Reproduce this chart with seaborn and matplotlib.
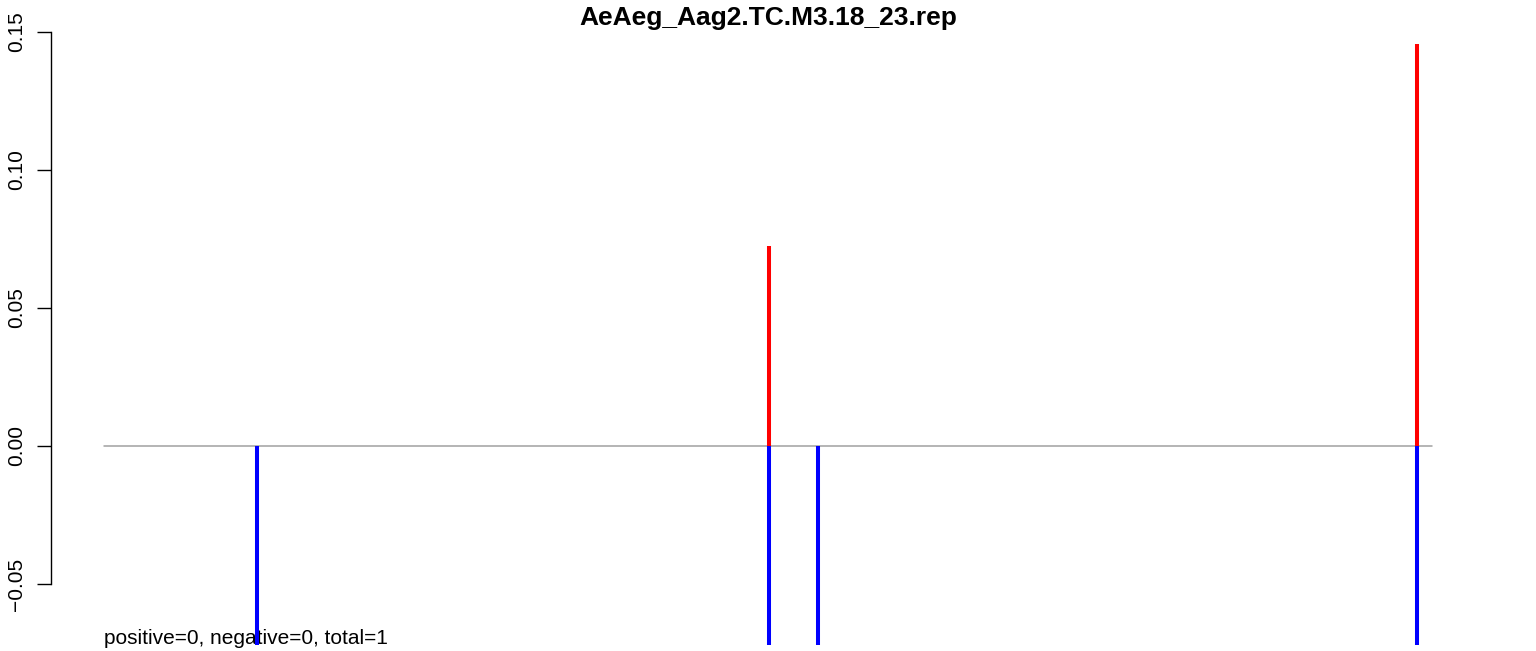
import matplotlib
matplotlib.use("Agg")
import matplotlib.pyplot as plt
import seaborn as sns
import pandas as pd

title = "AeAeg_Aag2.TC.M3.18_23.rep"
note = "positive=0, negative=0, total=1"
positions = [11.5, 50.1, 53.8, 98.9]
pos_values = [0.0, 0.0725, 0.0, 0.1457]
neg_values = [-0.1, -0.1, -0.1, -0.1]
baseline_x = [0, 100]
yticks = [-0.05, 0.00, 0.05, 0.10, 0.15]
ytick_labels = ["\u22120.05", "0.00", "0.05", "0.10", "0.15"]

sns.set_style("white")
plt.rcParams['font.family'] = ['Liberation Sans', 'DejaVu Sans']
plt.rcParams['text.color'] = 'black'
plt.rcParams['ytick.color'] = 'black'

W, H = 1536, 651
fig = plt.figure(figsize=(W / 100, H / 100), dpi=100)
left_px, right_px, top_px, bot_px = 51, 1485, 32, 645
ax = fig.add_axes([left_px / W, 1 - bot_px / H, (right_px - left_px) / W, (bot_px - top_px) / H])

ppu = (1432 - 104) / 100.0
ax.set_xlim(-(104 - left_px) / ppu, 100 + (right_px - 1432) / ppu)
ax.set_ylim(-(bot_px - 446) / 138 * 0.05, 0.15)

base = pd.DataFrame({"x": baseline_x, "y": [0, 0]})
sns.lineplot(data=base, x="x", y="y", color="#a0a0a0", linewidth=1.1, ax=ax, zorder=2)

ax.vlines(positions, 0, neg_values, colors="#0000ff", linewidth=2.9, zorder=3)
ax.vlines([p for p, v in zip(positions, pos_values) if v > 0], 0,
          [v for v in pos_values if v > 0], colors="#ff0000", linewidth=2.9, zorder=3)

for s in ["top", "right", "bottom"]:
    ax.spines[s].set_visible(False)
ax.spines["left"].set_bounds(-0.05, 0.15)
ax.spines["left"].set_color("black")
ax.spines["left"].set_linewidth(1.0)
ax.set_yticks(yticks)
ax.set_yticklabels(ytick_labels, rotation=90, va="center")
ax.tick_params(axis="y", left=True, length=10, width=1.0, pad=8, labelsize=15,
               color="black", labelcolor="black")
ax.set_xticks([])
ax.set_xlabel("")
ax.set_ylabel("")

fig.text((104 + 1432) / 2 / W, 1 - 18 / H, title, ha="center", va="center",
         fontsize=19, fontweight="bold", color="black")
ax.text(0, -(644 - 446) / 138 * 0.05, note, ha="left", va="baseline", fontsize=15,
        clip_on=False, color="black", zorder=1)

fig.savefig("out.png", dpi=100)
